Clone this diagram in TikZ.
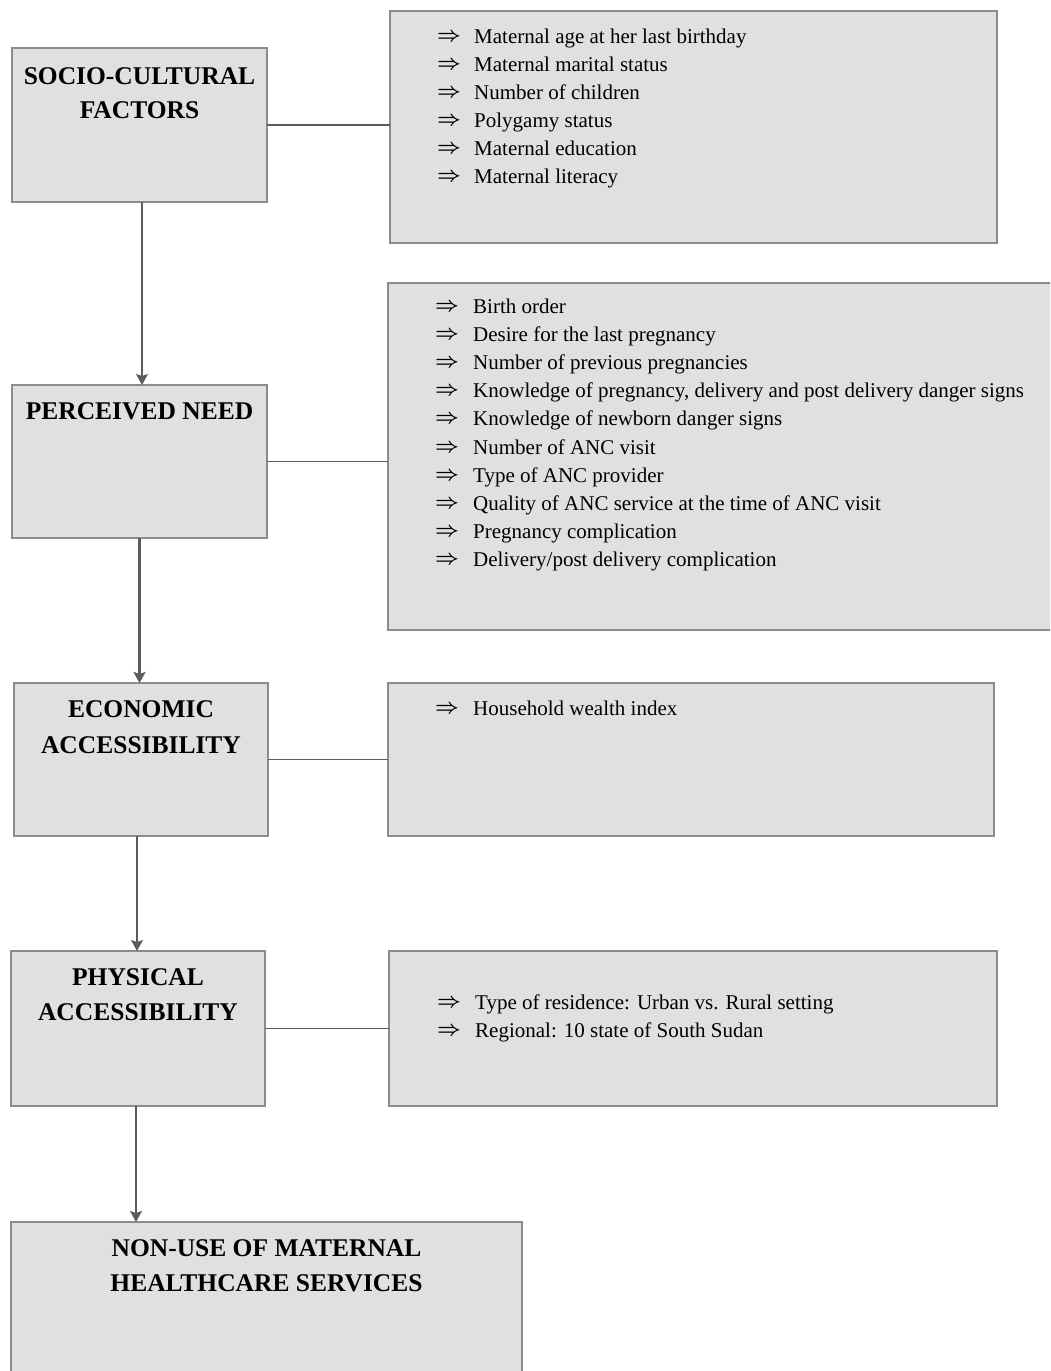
\documentclass[tikz,border=0pt]{standalone}
\usepackage{fontspec}
\setmainfont{Liberation Serif}
\usetikzlibrary{arrows.meta,calc}

\definecolor{boxfill}{HTML}{E0E0E0}
\definecolor{boxline}{HTML}{8C8C8C}
\definecolor{linkc}{HTML}{5C5C5C}

\tikzset{
  box/.style={draw=boxline, fill=boxfill, line width=1.3pt, anchor=north west,
              inner sep=0pt, outer sep=0pt},
  head/.style={font=\fontsize{25.5}{35}\selectfont\bfseries, anchor=base, inner sep=0pt},
  item/.style={font=\fontsize{21}{28}\selectfont, anchor=base west, inner sep=0pt},
  bullet/.style={font=\fontsize{20}{20}\selectfont\boldmath, anchor=base west,
                 inner sep=0pt, yshift=2pt},
  link/.style={draw=linkc, line width=1.3pt},
  flow/.style={link, -{Stealth[length=11pt,width=12pt,inset=2pt]}},
}

\begin{document}
\begin{tikzpicture}[x=1pt,y=-1pt]
\useasboundingbox (0,0) rectangle (1050,1371);
\fill[white] (0,0) rectangle (1050,1371);
\clip (0,0) rectangle (1050,1371);

% left column: the chain of factors
\node[box, minimum width=255pt, minimum height=154pt] (sc) at (12,48) {};
\node[box, minimum width=255pt, minimum height=153pt] (pn) at (12,385) {};
\node[box, minimum width=254pt, minimum height=153pt] (ea) at (14,683) {};
\node[box, minimum width=254pt, minimum height=155pt] (pa) at (11,951) {};
\node[box, minimum width=511pt, minimum height=170pt] (nu) at (11,1222) {};

% right column: variables of each factor
\node[box, minimum width=607pt, minimum height=232pt] (r1) at (390,11) {};
\node[box, minimum width=670pt, minimum height=347pt] (r2) at (388,283) {};
\node[box, minimum width=606pt, minimum height=153pt] (r3) at (388,683) {};
\node[box, minimum width=608pt, minimum height=155pt] (r4) at (389,951) {};

% titles
\node[head] (sc-t1) at ($(sc.north)+(0,36.5)$) {SOCIO-CULTURAL};
\node[head] (sc-t2) at ($(sc.north)+(0,70)$) {FACTORS};
\node[head] (pn-t1) at ($(pn.north)+(0,34.5)$) {PERCEIVED NEED};
\node[head] (ea-t1) at ($(ea.north)+(0,34.5)$) {ECONOMIC};
\node[head] (ea-t2) at ($(ea.north)+(0,70)$) {ACCESSIBILITY};
\node[head] (pa-t1) at ($(pa.north)+(0,34.5)$) {PHYSICAL};
\node[head] (pa-t2) at ($(pa.north)+(0,69.5)$) {ACCESSIBILITY};
\node[head] (nu-t1) at ($(nu.north)+(0,34.5)$) {NON-USE OF MATERNAL};
\node[head] (nu-t2) at ($(nu.north)+(0,69.5)$) {HEALTHCARE SERVICES};

% variable lists
\foreach \t [count=\i from 0] in {Maternal age at her last birthday,
    Maternal marital status, Number of children, Polygamy status,
    Maternal education, Maternal literacy}{
  \node[bullet] (r1-a\i) at (437,43+28*\i) {$\Rightarrow$};
  \node[item] (r1-i\i) at (474,43+28*\i) {\t};
}
\foreach \t [count=\i from 0] in {Birth order, Desire for the last pregnancy,
    Number of previous pregnancies,
    {Knowledge of pregnancy, delivery and post delivery danger signs},
    Knowledge of newborn danger signs, Number of ANC visit,
    Type of ANC provider, Quality of ANC service at the time of ANC visit,
    Pregnancy complication, Delivery/post delivery complication}{
  \node[bullet] (r2-a\i) at (435,313+28.2*\i) {$\Rightarrow$};
  \node[item] (r2-i\i) at (473,313+28.2*\i) {\t};
}
\node[bullet] (r3-a0) at (435,715) {$\Rightarrow$};
\node[item] (r3-i0) at (473,715) {Household wealth index};
\foreach \t [count=\i from 0] in {Type of residence: Urban vs. Rural setting,
    Regional: 10 state of South Sudan}{
  \node[bullet] (r4-a\i) at (437,1009+28*\i) {$\Rightarrow$};
  \node[item] (r4-i\i) at (475,1009+28*\i) {\t};
}

% links to the variable lists
\draw[link] (sc.east) -- (sc.east -| r1.west);
\draw[link] (pn.east) -- (pn.east -| r2.west);
\draw[link] (ea.east) -- (ea.east -| r3.west);
\draw[link] (pa.east) -- (pa.east -| r4.west);

% flow down the chain
\draw[flow] ([xshift=2.5pt]sc.south) -- ([xshift=2.5pt]sc.south |- pn.north);
\draw[flow, line width=2.8pt] (pn.south) -- (pn.south |- ea.north);
\draw[flow] ([xshift=-4pt]ea.south) -- ([xshift=-4pt]ea.south |- pa.north);
\draw[flow] ([xshift=-2pt]pa.south) -- ([xshift=-2pt]pa.south |- nu.north);
\end{tikzpicture}
\end{document}
